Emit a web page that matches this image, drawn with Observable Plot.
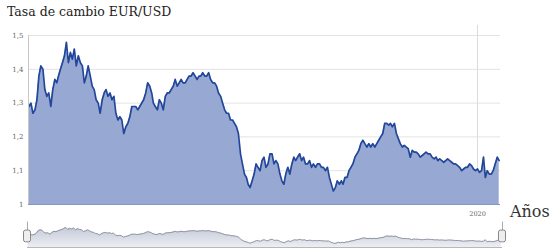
<!DOCTYPE html>
<html><head><meta charset="utf-8">
<script src="https://cdn.jsdelivr.net/npm/d3@7"></script>
<script src="https://cdn.jsdelivr.net/npm/@observablehq/plot@0.6"></script>
<style>
body{margin:0;background:#fff}
#wrap{position:relative;width:557px;height:251px;overflow:hidden;font-family:"DejaVu Serif","Liberation Serif","Times New Roman",serif}
#title{position:absolute;left:7px;top:4px;font-size:12.5px;color:#222;white-space:nowrap}
#anos{position:absolute;left:510px;top:202px;font-size:16px;color:#333}
#main{position:absolute;left:0;top:0}
#nav{position:absolute;left:0;top:218px}
</style></head><body>
<div id="wrap"><div id="main"></div><div id="nav"></div><div id="title">Tasa de cambio EUR/USD</div><div id="anos">Años</div></div>
<script>
// EUR/USD, semi-monthly readings (1st and 16th of each month)
const rate2010 = [1.29, 1.30, 1.27, 1.28, 1.31, 1.38, 1.41, 1.40, 1.34, 1.32, 1.33];
const rate2011 = [1.29, 1.34, 1.37, 1.36, 1.38, 1.40, 1.42, 1.44, 1.48, 1.42, 1.45, 1.43, 1.46, 1.41, 1.44, 1.42, 1.41, 1.36, 1.38, 1.41, 1.38, 1.35, 1.34, 1.31];
const rate2012 = [1.30, 1.27, 1.31, 1.33, 1.34, 1.32, 1.33, 1.31, 1.32, 1.27, 1.25, 1.26, 1.25, 1.21, 1.23, 1.24, 1.26, 1.29, 1.29, 1.29, 1.28, 1.29, 1.30, 1.31];
const rate2013 = [1.33, 1.36, 1.35, 1.33, 1.30, 1.29, 1.28, 1.31, 1.30, 1.28, 1.32, 1.33, 1.33, 1.34, 1.35, 1.37, 1.35, 1.36, 1.37, 1.36, 1.36, 1.37, 1.38, 1.38];
const rate2014 = [1.39, 1.38, 1.37, 1.38, 1.38, 1.39, 1.38, 1.38, 1.39, 1.37, 1.36, 1.36, 1.35, 1.33, 1.32, 1.30, 1.28, 1.27, 1.27, 1.25, 1.25, 1.24, 1.23, 1.21];
const rate2015 = [1.15, 1.12, 1.09, 1.08, 1.06, 1.05, 1.07, 1.09, 1.12, 1.11, 1.10, 1.13, 1.14, 1.11, 1.12, 1.15, 1.15, 1.12, 1.13, 1.12, 1.09, 1.07, 1.06, 1.09];
const rate2016 = [1.11, 1.09, 1.12, 1.14, 1.13, 1.14, 1.15, 1.13, 1.14, 1.12, 1.12, 1.13, 1.11, 1.12, 1.11, 1.12, 1.12, 1.11, 1.11, 1.10, 1.11, 1.08, 1.06, 1.04];
const rate2017 = [1.05, 1.07, 1.06, 1.07, 1.06, 1.08, 1.08, 1.10, 1.11, 1.12, 1.14, 1.15, 1.16, 1.18, 1.19, 1.18, 1.17, 1.18, 1.17, 1.18, 1.17, 1.18, 1.19, 1.20];
const rate2018 = [1.21, 1.24, 1.24, 1.235, 1.24, 1.23, 1.24, 1.21, 1.195, 1.18, 1.17, 1.175, 1.17, 1.165, 1.14, 1.16, 1.155, 1.155, 1.15, 1.14, 1.145, 1.15, 1.155, 1.15];
const rate2019 = [1.15, 1.14, 1.135, 1.14, 1.13, 1.135, 1.13, 1.125, 1.13, 1.135, 1.13, 1.125, 1.12, 1.12, 1.115, 1.11, 1.10, 1.105, 1.11, 1.11, 1.12, 1.115, 1.105, 1.10];
const rate2020 = [1.105, 1.095, 1.10, 1.14, 1.08, 1.10, 1.09, 1.09, 1.10, 1.12, 1.14, 1.13];
const years = [2010, 2011, 2012, 2013, 2014, 2015, 2016, 2017, 2018, 2019, 2020];
const series = [rate2010, rate2011, rate2012, rate2013, rate2014, rate2015, rate2016, rate2017, rate2018, rate2019, rate2020];

const yTicks = [1, 1.1, 1.2, 1.3, 1.4, 1.5];
const yTickLabels = ["1", "1,1", "1,2", "1,3", "1,4", "1,5"];
const xTicks = [new Date(2020, 0, 1)];
const xTickLabels = ["2020"];
const xDomain = [new Date(2010, 6, 13), new Date(2020, 5, 26)];

const data = [];
years.forEach((yr, i) => {
  const vals = series[i];
  const offset = yr === 2010 ? 24 - vals.length : 0;
  vals.forEach((v, j) => {
    const k = j + offset;
    data.push({date: new Date(yr, Math.floor(k / 2), k % 2 ? 16 : 1), value: v});
  });
});

const serif = "'DejaVu Serif', 'Liberation Serif', 'Times New Roman', serif";
const main = Plot.plot({
  width: 557, height: 222,
  marginLeft: 28, marginRight: 57, marginTop: 35, marginBottom: 18,
  x: {type: "time", domain: xDomain, label: null},
  y: {domain: [1, 1.5], label: null},
  style: {fontFamily: serif, fontSize: "7px", color: "#666", background: "transparent", overflow: "visible"},
  marks: [
    Plot.gridY(yTicks, {stroke: "#e3e3e3", strokeOpacity: 1}),
    Plot.ruleX(xTicks, {y1: 1, y2: 1.53, stroke: "#dcdcdc"}),
    Plot.areaY(data, {x: "date", y1: 1, y2: "value", fill: "#97a9d2"}),
    Plot.lineY(data, {x: "date", y: "value", stroke: "#22469a", strokeWidth: 1.7}),
    Plot.ruleY([1], {stroke: "#8497c4"}),
    Plot.ruleX([xDomain[0]], {y1: 1, y2: 1.5, stroke: "#c8c8c8"}),
    Plot.axisY(yTicks, {label: null, tickSize: 0, tickPadding: 5, tickFormat: d => yTickLabels[yTicks.indexOf(d)], fill: "#666", fontFamily: serif}),
    Plot.axisX(xTicks, {label: null, tickSize: 0, tickPadding: 7, tickFormat: d => xTickLabels[xTicks.findIndex(t => +t === +d)], fontSize: 6.5, fill: "#666", fontFamily: serif})
  ]
});
document.getElementById("main").appendChild(main);

const navBase = 0.93;
const nav = Plot.plot({
  width: 557, height: 33,
  marginLeft: 27, marginRight: 55, marginTop: 8, marginBottom: 4,
  x: {type: "time", domain: xDomain, axis: null},
  y: {domain: [navBase, 1.5], axis: null},
  style: {background: "transparent", overflow: "visible"},
  marks: [
    () => {
      const defs = d3.create("svg:defs");
      const g = defs.append("linearGradient").attr("id", "navgrad").attr("x1", 0).attr("y1", 0).attr("x2", 0).attr("y2", 1);
      g.append("stop").attr("offset", "0%").attr("stop-color", "#c3c9d8");
      g.append("stop").attr("offset", "100%").attr("stop-color", "#eceef3");
      return defs.node();
    },
    Plot.areaY(data, {x: "date", y1: navBase, y2: "value", fill: "url(#navgrad)"}),
    Plot.lineY(data, {x: "date", y: "value", stroke: "#8f95a1", strokeWidth: 1}),
    Plot.ruleY([navBase], {stroke: "#b8b8b8"}),
    Plot.ruleX(xDomain, {y1: 1.39, y2: 1.62, stroke: "#aaa"}),
    Plot.rect(xDomain, {x1: d => d, x2: d => d, y1: 1.07, y2: 1.39, insetLeft: -3.5, insetRight: -3.5, rx: 2, fill: "#eeeeee", stroke: "#888"})
  ]
});
document.getElementById("nav").appendChild(nav);
</script>
</body></html>
